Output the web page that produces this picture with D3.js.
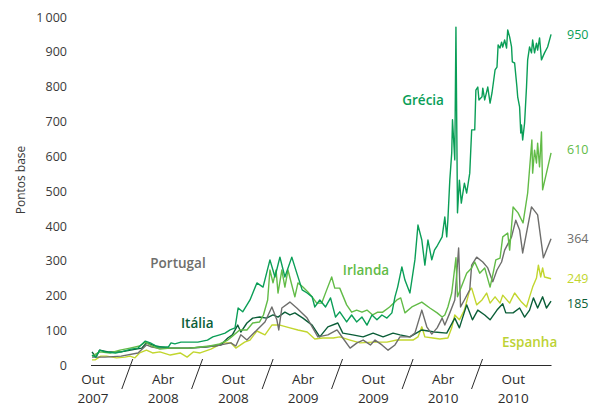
<!DOCTYPE html>
<html>
<head>
<meta charset="utf-8">
<script src="https://cdn.jsdelivr.net/npm/d3@7"></script>
<style>
  body { margin: 0; background: #fff; }
  svg { display: block; font-family: "Open Sans", "Noto Sans", sans-serif; }
</style>
</head>
<body>
<svg id="chart" width="598" height="406"></svg>
<script>
// Spreads of sovereign debt vs. Germany, basis points
const grecia = [["2007-10-01",30],["2007-10-11",24],["2007-10-21",44],["2007-11-04",39],["2007-12-01",36],["2007-12-16",39],["2008-01-11",47],["2008-01-29",50],["2008-02-17",70],["2008-03-01",65],["2008-03-21",53],["2008-04-17",53],["2008-04-24",65],["2008-05-04",62],["2008-05-20",67],["2008-07-03",67],["2008-07-28",73],["2008-08-11",82],["2008-08-29",88],["2008-09-12",93],["2008-09-25",102],["2008-10-08",108],["2008-10-16",165],["2008-10-28",154],["2008-11-16",188],["2008-12-04",237],["2008-12-20",225],["2009-01-07",303],["2009-01-20",254],["2009-02-02",311],["2009-02-15",254],["2009-03-05",311],["2009-03-18",265],["2009-04-01",217],["2009-04-14",208],["2009-04-27",197],["2009-05-04",168],["2009-05-17",188],["2009-06-01",168],["2009-06-14",194],["2009-06-27",139],["2009-07-08",154],["2009-07-26",125],["2009-08-08",145],["2009-08-21",125],["2009-09-04",139],["2009-09-17",116],["2009-09-30",145],["2009-10-13",131],["2009-10-26",145],["2009-11-08",136],["2009-11-21",151],["2009-11-29",197],["2009-12-06",225],["2009-12-17",283],["2009-12-25",245],["2010-01-07",208],["2010-01-20",303],["2010-01-28",403],["2010-02-07",360],["2010-02-15",288],["2010-02-23",360],["2010-03-05",303],["2010-03-12",331],["2010-03-20",345],["2010-04-01",369],["2010-04-08",426],["2010-04-13",369],["2010-04-16",418],["2010-04-21",532],["2010-04-26",610],["2010-04-28",705],["2010-05-04",590],["2010-05-07",971],["2010-05-11",438],["2010-05-16",532],["2010-05-21",466],["2010-05-29",523],["2010-06-04",495],["2010-06-12",552],["2010-06-17",676],["2010-06-25",676],["2010-06-28",790],["2010-07-03",799],["2010-07-06",762],["2010-07-14",771],["2010-07-16",796],["2010-07-21",762],["2010-07-29",799],["2010-08-04",753],["2010-08-09",782],["2010-08-17",848],["2010-08-22",856],["2010-08-25",920],["2010-08-30",911],["2010-09-03",928],["2010-09-06",914],["2010-09-11",934],["2010-09-16",911],["2010-09-19",963],["2010-09-24",943],["2010-09-29",914],["2010-10-01",871],["2010-10-07",868],["2010-10-13",799],["2010-10-15",771],["2010-10-20",742],["2010-10-23",667],["2010-10-25",690],["2010-10-28",647],["2010-11-02",696],["2010-11-07",799],["2010-11-10",877],["2010-11-15",914],["2010-11-20",897],["2010-11-23",934],["2010-11-28",897],["2010-12-03",925],["2010-12-06",905],["2010-12-11",940],["2010-12-16",877],["2010-12-24",897],["2011-01-01",914],["2011-01-10",950]];

const irlanda = [["2007-10-01",27],["2007-10-21",39],["2007-11-17",36],["2007-12-13",44],["2008-01-08",50],["2008-02-02",56],["2008-02-17",67],["2008-03-05",56],["2008-03-26",47],["2008-04-22",50],["2008-05-18",50],["2008-06-13",50],["2008-07-09",53],["2008-08-03",56],["2008-08-29",62],["2008-09-19",73],["2008-10-02",85],["2008-10-20",102],["2008-11-08",102],["2008-11-23",122],["2008-12-11",125],["2008-12-21",145],["2009-01-01",188],["2009-01-07",274],["2009-01-15",237],["2009-01-23",274],["2009-01-28",208],["2009-02-07",274],["2009-02-15",225],["2009-02-23",274],["2009-03-05",231],["2009-03-13",197],["2009-03-21",237],["2009-04-03",225],["2009-04-16",211],["2009-04-27",197],["2009-05-09",179],["2009-05-22",179],["2009-06-04",217],["2009-06-17",254],["2009-06-25",222],["2009-07-08",222],["2009-07-26",174],["2009-08-08",153],["2009-08-21",159],["2009-09-04",153],["2009-09-17",159],["2009-10-02",145],["2009-10-15",153],["2009-10-28",153],["2009-11-15",168],["2009-12-04",188],["2009-12-14",194],["2009-12-25",151],["2010-01-12",168],["2010-02-07",182],["2010-02-28",165],["2010-03-19",151],["2010-04-01",139],["2010-04-08",145],["2010-04-16",168],["2010-04-26",208],["2010-05-07",309],["2010-05-11",197],["2010-05-21",225],["2010-06-04",265],["2010-06-17",280],["2010-06-25",297],["2010-07-08",265],["2010-07-21",280],["2010-08-04",225],["2010-08-11",260],["2010-08-19",303],["2010-08-30",308],["2010-09-06",369],["2010-09-19",380],["2010-09-24",331],["2010-10-03",455],["2010-10-16",438],["2010-10-29",409],["2010-11-10",495],["2010-11-21",647],["2010-11-23",552],["2010-11-28",618],["2010-12-03",581],["2010-12-06",638],["2010-12-11",570],["2010-12-16",670],["2010-12-19",504],["2011-01-10",610]];

const portugal = [["2007-10-01",24],["2007-11-04",24],["2007-12-16",27],["2008-01-29",36],["2008-02-20",59],["2008-03-05",53],["2008-03-21",50],["2008-05-04",50],["2008-06-08",50],["2008-07-22",53],["2008-09-01",59],["2008-09-27",65],["2008-10-10",56],["2008-10-23",88],["2008-11-08",73],["2008-12-04",102],["2008-12-25",125],["2009-01-12",168],["2009-01-25",131],["2009-01-30",102],["2009-02-07",165],["2009-02-28",182],["2009-03-18",165],["2009-04-14",136],["2009-05-12",82],["2009-06-07",88],["2009-07-01",102],["2009-07-16",79],["2009-08-04",50],["2009-08-22",65],["2009-09-07",73],["2009-09-26",59],["2009-10-08",73],["2009-10-26",59],["2009-11-11",44],["2009-11-29",59],["2009-12-12",82],["2010-01-07",82],["2010-01-20",93],["2010-02-07",159],["2010-02-20",111],["2010-03-05",90],["2010-03-19",108],["2010-04-01",136],["2010-04-08",116],["2010-04-21",151],["2010-05-04",188],["2010-05-14",337],["2010-05-19",168],["2010-05-29",188],["2010-06-12",217],["2010-06-17",288],["2010-06-30",311],["2010-07-16",297],["2010-07-29",280],["2010-08-11",240],["2010-08-22",274],["2010-09-03",297],["2010-09-11",331],["2010-09-29",369],["2010-10-10",417],["2010-10-20",389],["2010-10-28",323],["2010-11-20",455],["2010-12-06",432],["2010-12-21",309],["2011-01-10",364]];

const espanha = [["2007-10-01",16],["2007-10-09",16],["2007-10-24",27],["2007-11-08",27],["2007-12-04",22],["2007-12-26",24],["2008-01-08",27],["2008-01-21",22],["2008-02-02",36],["2008-02-20",44],["2008-03-07",36],["2008-03-26",39],["2008-04-22",30],["2008-05-18",36],["2008-06-05",24],["2008-06-21",39],["2008-07-09",36],["2008-08-06",47],["2008-09-06",65],["2008-09-27",65],["2008-10-10",50],["2008-11-02",67],["2008-11-16",73],["2008-12-04",99],["2008-12-25",88],["2009-01-12",116],["2009-02-02",116],["2009-02-28",108],["2009-03-21",102],["2009-04-14",96],["2009-05-04",76],["2009-05-25",79],["2009-06-21",79],["2009-07-08",82],["2009-08-04",73],["2009-08-30",65],["2009-10-02",67],["2009-11-08",67],["2009-12-04",73],["2009-12-30",73],["2010-01-15",73],["2010-01-28",82],["2010-02-07",111],["2010-02-15",82],["2010-03-08",79],["2010-03-26",76],["2010-04-16",79],["2010-04-26",108],["2010-05-04",145],["2010-05-16",131],["2010-05-29",159],["2010-06-12",217],["2010-06-17",222],["2010-06-30",174],["2010-07-14",188],["2010-07-26",208],["2010-08-04",179],["2010-08-17",197],["2010-08-30",179],["2010-09-06",202],["2010-09-24",179],["2010-10-07",208],["2010-10-25",182],["2010-11-07",168],["2010-11-15",197],["2010-11-23",225],["2010-12-03",251],["2010-12-08",288],["2010-12-14",254],["2010-12-19",280],["2010-12-24",254],["2011-01-10",249]];

const italia = [["2007-10-01",39],["2007-10-11",24],["2007-10-21",44],["2007-11-12",39],["2007-12-16",39],["2008-01-24",47],["2008-02-08",50],["2008-02-20",65],["2008-03-15",56],["2008-04-17",50],["2008-06-08",50],["2008-07-22",53],["2008-09-01",59],["2008-09-19",79],["2008-10-01",88],["2008-10-15",116],["2008-10-23",96],["2008-11-08",122],["2008-11-23",136],["2008-12-11",139],["2008-12-29",136],["2009-01-15",145],["2009-01-28",139],["2009-02-15",153],["2009-02-28",145],["2009-03-13",151],["2009-04-03",136],["2009-04-27",116],["2009-05-17",82],["2009-06-07",111],["2009-07-03",122],["2009-07-16",93],["2009-08-11",88],["2009-09-07",82],["2009-10-03",93],["2009-10-29",82],["2009-11-24",93],["2009-12-12",88],["2010-01-07",82],["2010-02-07",102],["2010-03-12",96],["2010-04-13",93],["2010-05-04",136],["2010-05-16",108],["2010-06-04",174],["2010-06-19",131],["2010-07-03",159],["2010-07-21",145],["2010-08-04",131],["2010-08-22",159],["2010-09-06",177],["2010-09-14",151],["2010-10-03",151],["2010-10-20",165],["2010-11-02",139],["2010-11-15",159],["2010-11-25",194],["2010-12-06",165],["2010-12-19",197],["2010-12-29",165],["2011-01-10",185]];

const yTicks = [0, 100, 200, 300, 400, 500, 600, 700, 800, 900, 1000];
const xLabels = [["2007-10-01","Out","2007"],["2008-04-01","Abr","2008"],["2008-10-01","Out","2008"],["2009-04-01","Abr","2009"],["2009-10-01","Out","2009"],["2010-04-01","Abr","2010"],["2010-10-01","Out","2010"]];
const xBreaks = ["2008-01-01","2008-07-01","2009-01-01","2009-07-01","2010-01-01","2010-07-01"];

const series = [
  { name: "Espanha",  data: espanha,  color: "#c2d62e", label: ["2010-09-04", 53] },
  { name: "Itália",   data: italia,   color: "#0b5e38", label: ["2008-05-20", 108] },
  { name: "Portugal", data: portugal, color: "#6e6e6c", label: ["2008-03-01", 280] },
  { name: "Irlanda",  data: irlanda,  color: "#62bb47", label: ["2009-07-16", 260] },
  { name: "Grécia",   data: grecia,   color: "#0a9e57", label: ["2009-12-18", 747] }
];

const parse = d3.timeParse("%Y-%m-%d");
const svg = d3.select("#chart");

const x = d3.scaleTime()
  .domain([parse("2007-10-01"), parse("2011-01-01")])
  .range([92, 547.6]);
const y = d3.scaleLinear().domain([0, 1000]).range([365.5, 17]);

const pt = d3.formatLocale({ decimal: ",", thousands: "\u2009", grouping: [3], currency: ["", "€"] });
const fmt = pt.format(",d");

// y axis: labels only
const yAxis = svg.append("g")
  .attr("transform", "translate(67,0)")
  .call(d3.axisLeft(y).tickValues(yTicks).tickSize(0).tickPadding(0).tickFormat(fmt));
yAxis.select(".domain").remove();
yAxis.selectAll("text")
  .attr("fill", "#3a3a3a")
  .style("font-size", "12.5px")
  .style("font-family", "\"Open Sans\", sans-serif");

svg.append("text")
  .attr("transform", "translate(25,180) rotate(-90)")
  .attr("text-anchor", "middle")
  .attr("fill", "#3a3a3a")
  .style("font-size", "12px")
  .text("Pontos base");

// x axis baseline, breaks and two-line labels
const xg = svg.append("g");
xg.append("line")
  .attr("x1", x(parse("2007-10-01")) - 1).attr("x2", 551.5)
  .attr("y1", y(0)).attr("y2", y(0))
  .attr("stroke", "#2b2b2b").attr("stroke-width", 1.1);

xg.selectAll(".brk").data(xBreaks).join("line")
  .attr("class", "brk")
  .attr("x1", d => x(parse(d)) + 5.5).attr("y1", 359)
  .attr("x2", d => x(parse(d)) - 5.5).attr("y2", 389)
  .attr("stroke", "#2b2b2b").attr("stroke-width", 1);

// month on the first line, year on the second
[[1, 384], [2, 402.6]].forEach(([k, yy]) => {
  xg.selectAll(".xl" + k).data(xLabels).join("text")
    .attr("class", "xl" + k)
    .attr("x", d => x(parse(d[0])) + 1)
    .attr("y", yy)
    .attr("text-anchor", "middle")
    .attr("fill", "#2b2b2b")
    .style("font-size", "13.5px")
    .text(d => d[k]);
});

// lines
const line = d3.line()
  .x(d => x(parse(d[0])))
  .y(d => y(d[1]));

svg.append("g").selectAll("path").data(series).join("path")
  .attr("d", s => line(s.data))
  .attr("fill", "none")
  .attr("stroke", s => s.color)
  .attr("stroke-width", 1.4)
  .attr("stroke-linejoin", "round");

// series names
svg.append("g").selectAll("text").data(series).join("text")
  .attr("x", s => x(parse(s.label[0])))
  .attr("y", s => y(s.label[1]))
  .attr("fill", s => s.name === "Espanha" ? "#bcd234" : s.color)
  .style("font-size", "13.5px")
  .style("font-weight", 600)
  .text(s => s.name);

// last values on the right
svg.append("g").selectAll("text").data(series).join("text")
  .attr("x", 567)
  .attr("y", s => y(s.data[s.data.length - 1][1]) + (s.name === "Irlanda" ? -3 : s.name === "Itália" ? 3 : 0))
  .attr("dy", "0.35em")
  .attr("fill", s => s.color)
  .style("font-size", "12.5px")
  .text(s => s.data[s.data.length - 1][1]);
</script>
</body>
</html>
